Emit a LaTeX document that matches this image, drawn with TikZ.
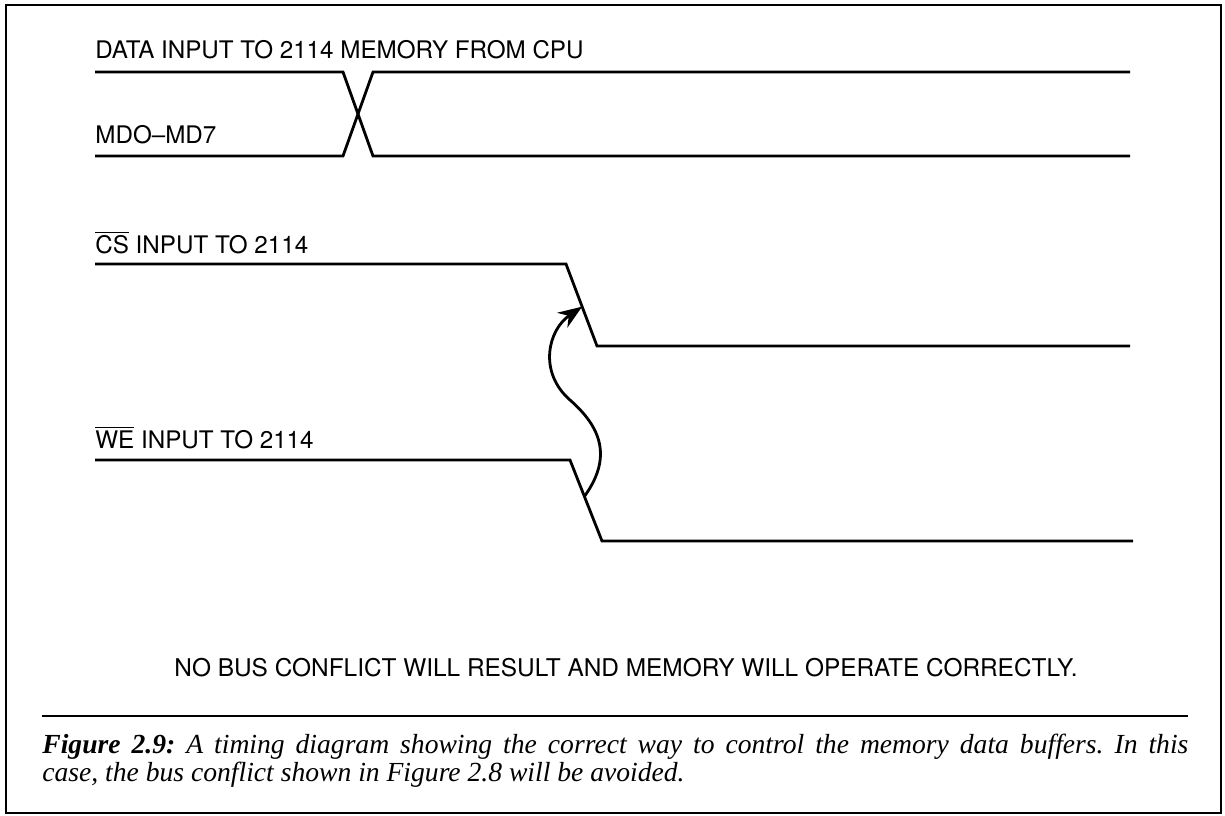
\documentclass[tikz,border=0pt]{standalone}
\usepackage{fontspec}
\setmainfont{TeX Gyre Heros}
\newfontfamily\capfont{Liberation Serif}
\usepackage{tikz}
\usetikzlibrary{positioning}
\usetikzlibrary{calc}
\usetikzlibrary{arrows.meta}

\tikzset{
    wave/.style={line width=1.4pt, line join=miter},
    sig/.style={inner sep=0pt, anchor=base west, font=\fontsize{12.1}{14}\selectfont},
}

\begin{document}
\begin{tikzpicture}[x=0.5pt, y=-0.5pt]
    \useasboundingbox (0,0) rectangle (1225,815);
    \draw[line width=1pt] (6,5) rectangle (1221,813);

        \node[sig] (datalbl) at (95,58) {DATA INPUT TO 2114 MEMORY FROM CPU};
        \node[sig] (mdlbl) at (95,143) {MDO--MD7};
        \node[sig] (cslbl) at (95,253) {$\overline{\hbox{CS}}$ INPUT TO 2114};
        \node[sig] (welbl) at (95,448) {$\overline{\hbox{WE}}$ INPUT TO 2114};

        \coordinate (d1) at (95,72);
        \coordinate (d2) at (343,72);
        \coordinate (d3) at (373,72);
        \coordinate (d4) at (1130,72);
        \coordinate (m1) at (95,156);
        \coordinate (m2) at (343,156);
        \coordinate (m3) at (373,156);
        \coordinate (m4) at (1130,156);

        \coordinate (cs1) at (95,264);
        \coordinate (cs2) at (566,264);
        \coordinate (cs3) at (597,346);
        \coordinate (cs4) at (1130,346);

        \coordinate (we1) at (95,460);
        \coordinate (we2) at (570,460);
        \coordinate (we3) at (602,541);
        \coordinate (we4) at (1133,541);

        \coordinate (from) at ($(we2)!0.45!(we3)$);
        \coordinate (to) at ($(cs2)!0.52!(cs3)$);

    \draw[wave] (d1) -- (d2) -- (m3) -- (m4);
    \draw[wave] (m1) -- (m2) -- (d3) -- (d4);
    \draw[wave] (cs1) -- (cs2) -- (cs3) -- (cs4);
    \draw[wave] (we1) -- (we2) -- (we3) -- (we4);

    \draw[line width=1.4pt, -{Stealth[length=12pt, width=9pt]}] (from) .. controls (612,458) and (602,428) .. (570,400) .. controls (538,372) and (548,330) .. (to);

        \node[font=\fontsize{12.2}{14}\selectfont, inner sep=0pt] (result) at (626,668) {NO BUS CONFLICT WILL RESULT AND MEMORY WILL OPERATE CORRECTLY.};

        \coordinate (sepl) at (42,716);
        \coordinate (sepr) at (1188,716);
    \draw[line width=1pt] (sepl) -- (sepr);

        \node[anchor=north west, inner sep=0pt, text width=573pt, align=justify, font=\capfont\itshape\fontsize{13.8}{14}\selectfont] (caption) at (42,734) {\frenchspacing\textbf{Figure 2.9:} A timing diagram showing the correct way to control the memory data buffers. In this\linebreak case, the bus conflict shown in Figure 2.8 will be avoided.};
\end{tikzpicture}
\end{document}
